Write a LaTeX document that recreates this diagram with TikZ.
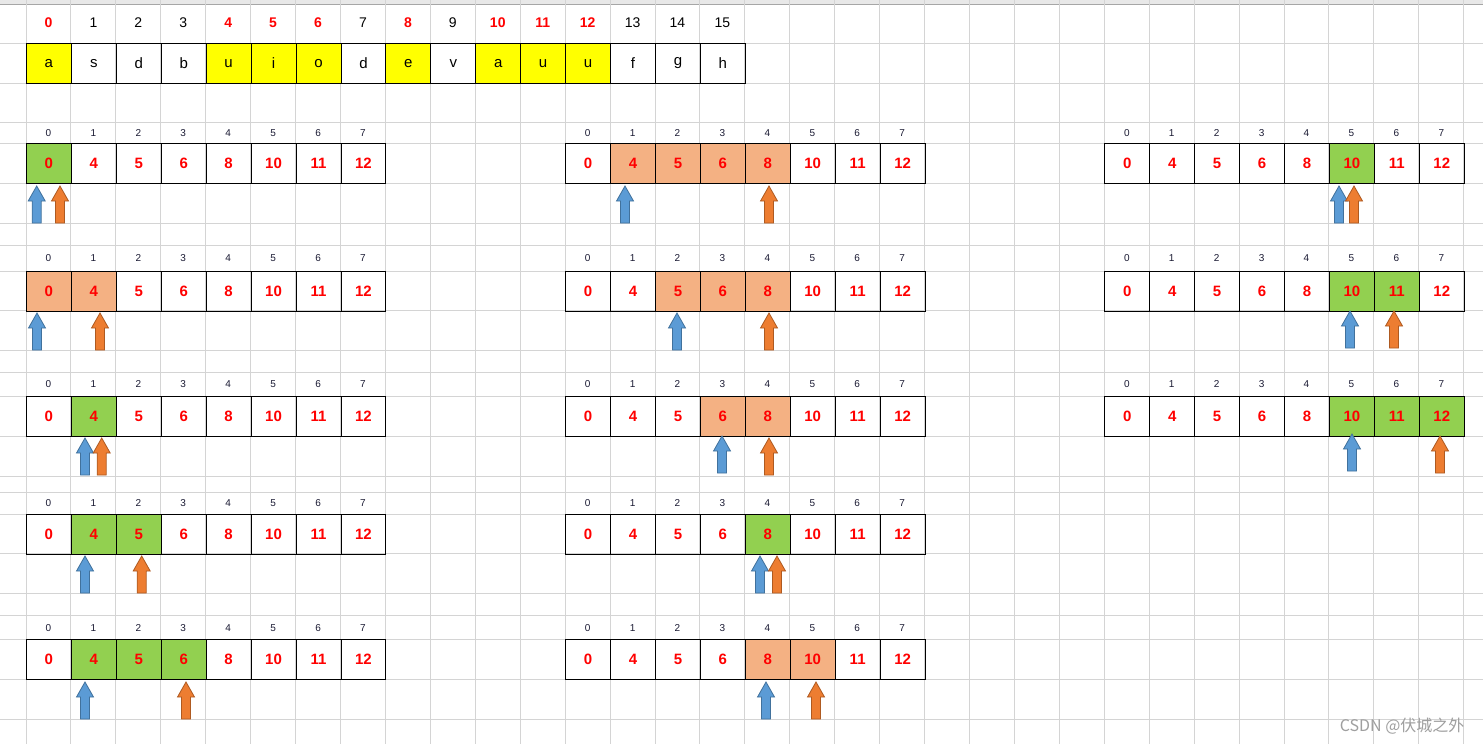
\documentclass[tikz,border=0pt]{standalone}
\usepackage{fontspec}
\setmainfont{Liberation Sans}
\newfontfamily\cjkfont{Noto Sans CJK SC}
\usetikzlibrary{positioning}
\definecolor{gridgray}{HTML}{D4D4D4}
\definecolor{hdrgray}{HTML}{E8E8E8}
\definecolor{cellgreen}{HTML}{92D050}
\definecolor{cellsalmon}{HTML}{F4B183}
\definecolor{cellyellow}{HTML}{FFFF00}
\definecolor{ptrblue}{HTML}{5B9BD5}
\definecolor{ptrblueedge}{HTML}{41719C}
\definecolor{ptrorange}{HTML}{ED7D31}
\definecolor{ptrorangeedge}{HTML}{AE5A21}
\definecolor{idxink}{HTML}{1A1A33}

\begin{document}
\begin{tikzpicture}[
  x=1pt, y=-1pt,
  gridline/.style={draw=gridgray, line width=1pt},
  cell/.style={draw=black, line width=0.9pt, minimum width=44.93pt,
               minimum height=40pt, inner sep=0pt, anchor=north west},
  val/.style={text=red, font=\fontsize{15}{15}\selectfont\bfseries},
  chr/.style={font=\fontsize{15}{15}\selectfont},
  idx/.style={text=idxink, font=\fontsize{10}{10}\selectfont},
  topidx/.style={font=\fontsize{14}{14}\selectfont},
  hotidx/.style={topidx, text=red, font=\fontsize{14}{14}\selectfont\bfseries},
  blueptr/.style={fill=ptrblue, draw=ptrblueedge, line width=0.8pt},
  orangeptr/.style={fill=ptrorange, draw=ptrorangeedge, line width=0.8pt},
  pics/upptr/.style={code={
    \path[#1] (-4.5,37) -- (-4.5,15) -- (-8.5,15) -- (0,0) -- (8.5,15)
              -- (4.5,15) -- (4.5,37) -- cycle;}}
]
  \fill[white] (0,0) rectangle (1483,744);
  \useasboundingbox (0,0) rectangle (1483,744);

  % sheet grid
  \fill[hdrgray] (0,0) rectangle (1483,4);
  \draw[gray!70, line width=1pt] (0,4) -- (1483,4);
  \foreach \k in {0,...,32}
    \draw[gridline] ({26+44.93*\k},0) -- ({26+44.93*\k},744);
  \foreach \y in {43,83,122,143,183,223,245,271,310,350,372,396,436,476,
                  492,514,553,593,615,639,679,719}
    \draw[gridline] (0,\y) -- (1483,\y);

  % source string
  \foreach \k in {0,4,5,6,8,10,11,12}
    \fill[cellyellow] ({26+44.93*\k},43) rectangle ++(44.93,40);
  \foreach \ch [count=\k from 0] in {a,s,d,b,u,i,o,d,e,v,a,u,u,f,g,h}
    \node[cell, chr] (s\k) at ({26+44.93*\k},43) {\ch};
  \foreach \k in {1,2,3,7,9,13,14,15}
    \node[topidx] (t\k) at ({26+44.93*(\k+0.5)},23) {\k};
  \foreach \k in {0,4,5,6,8,10,11,12}
    \node[hotidx] (t\k) at ({26+44.93*(\k+0.5)},23) {\k};

  % window highlights
  \foreach \bc/\yd/\hl/\hc in {0/143/{0}/cellgreen, 0/271/{0,1}/cellsalmon,
      0/396/{1}/cellgreen, 0/514/{1,2}/cellgreen, 0/639/{1,2,3}/cellgreen,
      12/143/{1,2,3,4}/cellsalmon, 12/271/{2,3,4}/cellsalmon,
      12/396/{3,4}/cellsalmon, 12/514/{4}/cellgreen, 12/639/{4,5}/cellsalmon,
      24/143/{5}/cellgreen, 24/271/{5,6}/cellgreen, 24/396/{5,6,7}/cellgreen}
    \foreach \k in \hl
      \fill[\hc] ({26+44.93*(\bc+\k)},\yd) rectangle ++(44.93,40);

  % index arrays
  \foreach \bc/\yi/\yd/\nm in {0/133/143/La, 0/258/271/Lb, 0/384/396/Lc,
      0/503/514/Ld, 0/628/639/Le, 12/133/143/Ma, 12/258/271/Mb,
      12/384/396/Mc, 12/503/514/Md, 12/628/639/Me,
      24/133/143/Ra, 24/258/271/Rb, 24/384/396/Rc}
    \foreach \v [count=\k from 0] in {0,4,5,6,8,10,11,12} {
      \node[cell, val] (\nm\k) at ({26+44.93*(\bc+\k)},\yd) {\v};
      \node[idx] (\nm i\k) at ({26+44.93*(\bc+\k+0.5)},\yi) {\k};
    }

  % left / right pointers
  \foreach \px/\py/\st in {36.7/186/blueptr, 60/186/orangeptr,
      37/313/blueptr, 100/313/orangeptr, 85/438/blueptr, 101.7/438/orangeptr,
      85/556/blueptr, 141.7/556/orangeptr, 85/682/blueptr, 186/682/orangeptr,
      625/186/blueptr, 769/186/orangeptr, 677/313/blueptr, 769/313/orangeptr,
      722/436/blueptr, 769/438/orangeptr, 760/556/blueptr, 777/556/orangeptr,
      766/682/blueptr, 816/682/orangeptr,
      1339/186/blueptr, 1354/186/orangeptr, 1350/311/blueptr,
      1394/311/orangeptr, 1352/434/blueptr, 1440/436/orangeptr}
    \pic at (\px,\py) {upptr=\st};

  \node[anchor=east, text=gray!75, font=\cjkfont\fontsize{16}{16}\selectfont]
    (mark) at (1468,726) {CSDN @伏城之外};
\end{tikzpicture}
\end{document}
